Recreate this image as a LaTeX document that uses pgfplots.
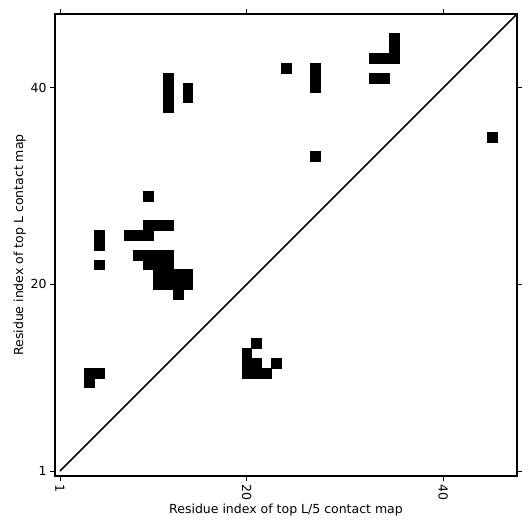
\documentclass[border=0pt]{standalone}
\usepackage{pgfplots}
\pgfplotsset{compat=1.18}
\usepackage{fontspec}
\setmainfont{DejaVu Sans}
\begin{document}
\begin{tikzpicture}
\begin{axis}[
  scale only axis,
  width=462pt, height=462pt,
  xmin=0.5, xmax=47.5, ymin=0.5, ymax=47.5,
  xtick={1,20,40}, ytick={1,20,40},
  tick align=outside,
  xtick pos=both, ytick pos=both,
  xticklabel pos=lower, yticklabel pos=left,
  major tick length=5pt,
  every tick/.style={black, line width=0.8pt},
  axis line style={line width=1.6pt},
  /pgf/number format/assume math mode=true,
  tick label style={font=\fontsize{12.5}{15}\selectfont},
  xticklabel style={rotate=-90, anchor=west},
  label style={font=\fontsize{12.5}{15}\selectfont},
  xlabel={Residue index of top L/5 contact map},
  ylabel={Residue index of top L contact map},
  xlabel style={yshift=3pt},
  ylabel style={yshift=-2pt},
  clip=true,
]
\addplot[only marks, mark=square*, mark size=4.95pt, mark options={draw=none, fill=black}] coordinates {
(4,10) (4,11) (5,11)
(5,22) (5,24) (5,25)
(8,25) (9,25) (10,25)
(10,26) (11,26) (12,26)
(10,29)
(9,23) (10,23) (11,23) (12,23)
(10,22) (11,22) (12,22)
(11,21) (12,21) (13,21) (14,21)
(11,20) (12,20) (13,20) (14,20)
(13,19)
(12,38) (12,39) (12,40) (12,41)
(14,39) (14,40)
(20,11) (20,12) (20,13)
(21,11) (21,12) (21,14)
(22,11) (23,12)
(24,42)
(27,40) (27,41) (27,42)
(27,33)
(33,41) (34,41)
(33,43) (34,43) (35,43) (35,44) (35,45)
(45,35)
};
\addplot[black, line width=1.5pt] coordinates {(1,1) (47.5,47.5)};
\end{axis}
\path[use as bounding box] (current axis.south west) ++(-55pt,-55pt) rectangle ++(531pt,531pt);
\end{tikzpicture}
\end{document}
